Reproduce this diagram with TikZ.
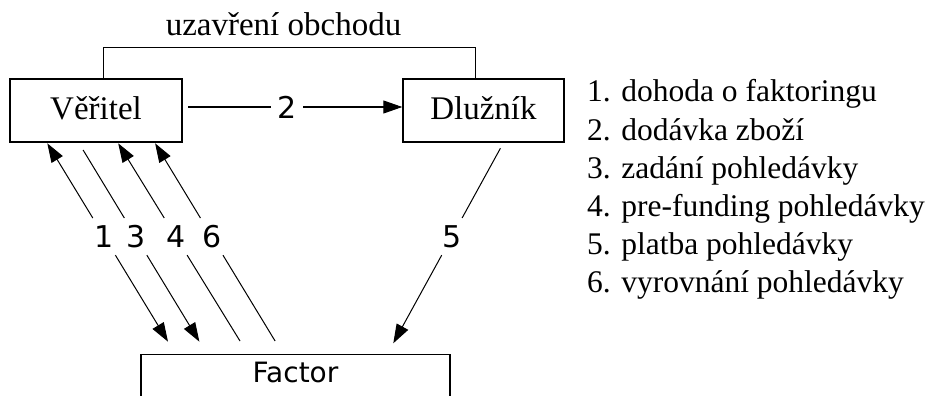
\documentclass[tikz,border=0pt]{standalone}
\usepackage{fontspec}
\setmainfont{Liberation Serif}
\newfontfamily\labelsans{DejaVu Sans}
\usetikzlibrary{arrows.meta}
\begin{document}
\begin{tikzpicture}[x=1pt,y=-1pt,
  box/.style={draw, line width=1.4pt, inner sep=0pt},
  serif/.style={font=\fontsize{33}{37}\selectfont},
  lab/.style={font=\labelsans\fontsize{30}{32}\selectfont, inner sep=0pt, minimum width=28pt, minimum height=36.8pt},
  conn/.style={line width=1.0pt},
  tip/.style={-{Triangle[length=19pt,width=13pt]}},
  legend/.style={font=\fontsize{31.5}{36}\selectfont, anchor=base west, inner sep=0pt}
]
\useasboundingbox (0,0) rectangle (927,396);
\clip (0,0) rectangle (927,396);

% boxes
\node[box, serif, minimum width=172pt, minimum height=63pt, text height=17pt, text depth=0pt] (V) at (96,110.5) {Věřitel};
\node[box, serif, minimum width=161pt, minimum height=63pt, text height=17pt, text depth=0pt] (D) at (483.5,110.5) {Dlužník};
\node[box, font=\labelsans\fontsize{28}{30}\selectfont, minimum width=309pt, minimum height=60pt, text height=20pt, text depth=25.4pt, anchor=north] (F) at (295.5,354) {Factor};

% top connection
\node[serif, anchor=base, inner sep=0pt] (T) at (283.5,36) {uzavření obchodu};
\coordinate (tl) at (103.4,47.7);
\coordinate (tr) at (475,47.7);
\draw[conn] (V.north -| tl) -- (tl) -- (tr) -- (D.north -| tr);

% arrow 2
\coordinate (s2) at (188,107);
\node[lab, minimum width=31.4pt] (l2) at (287.1,107) {2};
\draw[conn] (s2) -- (l2);
\draw[conn,tip] (l2) -- (D.west |- s2);

% diagonal 1
\coordinate (a1) at (47.3,143.3); \coordinate (b1) at (168,341.7);
\node[lab] (l1) at (104.1,236.6) {1};
\draw[conn,tip] (l1) -- (a1);
\draw[conn,tip] (l1) -- (b1);
% diagonal 3
\coordinate (a3) at (83.1,150); \coordinate (b3) at (199.4,341.7);
\node[lab] (l3) at (135.6,236.6) {3};
\draw[conn] (l3) -- (a3);
\draw[conn,tip] (l3) -- (b3);
% diagonal 4
\coordinate (a4) at (118.2,143.3); \coordinate (b4) at (240,341);
\node[lab] (l4) at (175.7,236.6) {4};
\draw[conn,tip] (l4) -- (a4);
\draw[conn] (l4) -- (b4);
% diagonal 6
\coordinate (a6) at (155.1,143.3); \coordinate (b6) at (275.1,341);
\node[lab] (l6) at (211.7,236.6) {6};
\draw[conn,tip] (l6) -- (a6);
\draw[conn] (l6) -- (b6);
% diagonal 5
\coordinate (a5) at (500.4,148.3); \coordinate (b5) at (393.3,343.3);
\node[lab] (l5) at (451.9,236.6) {5};
\draw[conn] (l5) -- (a5);
\draw[conn,tip] (l5) -- (b5);

% legend
\node[legend] (n1) at (587,102) {1. dohoda o faktoringu};
\node[legend] (n2) at (587,140) {2. dodávka zboží};
\node[legend] (n3) at (587,178) {3. zadání pohledávky};
\node[legend] (n4) at (587,216) {4. pre-funding pohledávky};
\node[legend] (n5) at (587,254) {5. platba pohledávky};
\node[legend] (n6) at (587,292) {6. vyrovnání pohledávky};
\end{tikzpicture}
\end{document}
